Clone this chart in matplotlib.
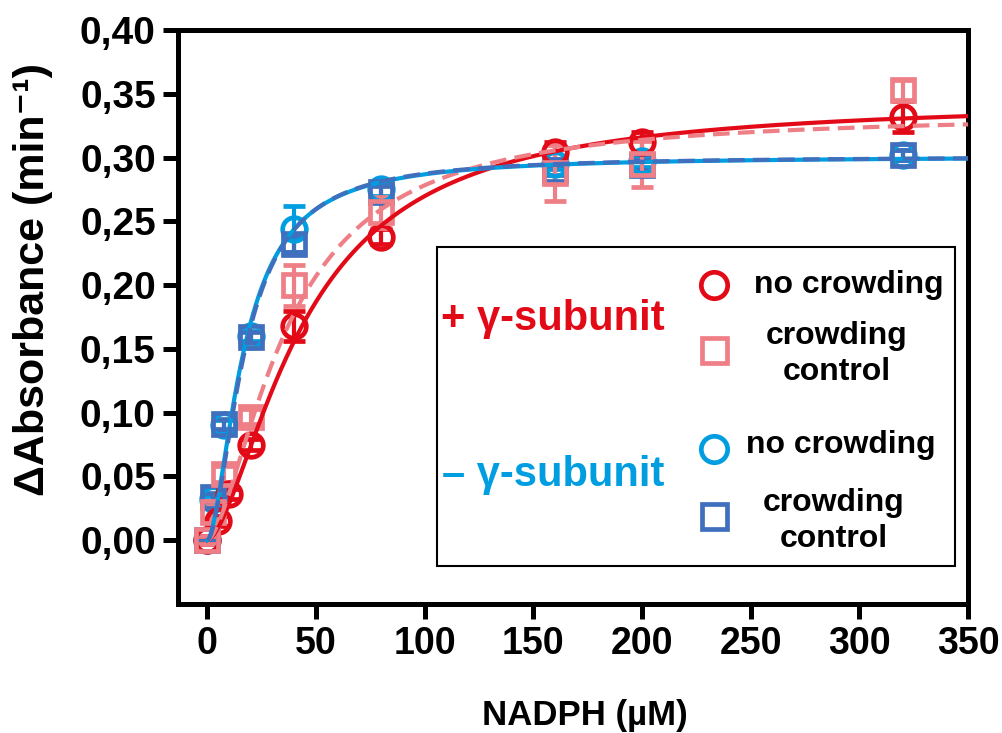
import numpy as np
import matplotlib
matplotlib.use("Agg")
import matplotlib.pyplot as plt
from matplotlib.patches import Rectangle

plt.rcParams['font.family'] = ['Liberation Sans', 'DejaVu Sans']
plt.rcParams['font.weight'] = 'bold'

# NADPH concentrations (µM) and rates for each condition
x_plus_nc = [0, 5, 10, 20, 40, 80, 160, 200, 320]
y_plus_nc = [0.000, 0.015, 0.036, 0.075, 0.168, 0.238, 0.304, 0.312, 0.332]
e_plus_nc = [0.003, 0.004, 0.004, 0.004, 0.012, 0.006, 0.008, 0.008, 0.012]

x_plus_cc = [0, 2.5, 7.5, 20, 40, 80, 160, 200, 320]
y_plus_cc = [0.000, 0.022, 0.052, 0.097, 0.200, 0.257, 0.288, 0.295, 0.353]
e_plus_cc = [0.003, 0.005, 0.006, 0.006, 0.016, 0.012, 0.022, 0.018, 0.008]

x_minus_nc = [0, 2.5, 7.5, 20, 40, 80, 160, 200, 320]
y_minus_nc = [0.000, 0.032, 0.090, 0.160, 0.244, 0.275, 0.295, 0.297, 0.302]
e_minus_nc = [0.002, 0.003, 0.004, 0.004, 0.018, 0.005, 0.004, 0.004, 0.004]

x_minus_cc = [0, 2.5, 7.5, 20, 40, 80, 160, 200, 320]
y_minus_cc = [0.000, 0.034, 0.091, 0.159, 0.232, 0.273, 0.290, 0.294, 0.302]
e_minus_cc = [0.002, 0.003, 0.004, 0.004, 0.006, 0.005, 0.004, 0.004, 0.004]

# Hill fit parameters (Vmax, K, n)
fit_plus_nc = (0.345, 45.0, 1.6)
fit_plus_cc = (0.335, 37.0, 1.6)
fit_minus_nc = (0.301, 17.0, 1.7)
fit_minus_cc = (0.301, 17.5, 1.75)

x_ticks = [0, 50, 100, 150, 200, 250, 300, 350]
y_ticks = [0.00, 0.05, 0.10, 0.15, 0.20, 0.25, 0.30, 0.35, 0.40]

RED = '#E30A17'
PINK = '#EF7F86'
CYAN = '#009EE0'
BLUE = '#4070BD'


def hill(x, vmax, k, n):
    x = np.asarray(x, dtype=float)
    return vmax * x**n / (k**n + x**n)


fig = plt.figure(figsize=(10.03, 7.33), dpi=100)
ax = fig.add_axes([0.1775, 0.176, 0.7876, 0.783])

ms_c, ms_s, mew = 17, 15.5, 3.4
err_kw = dict(elinewidth=3, capsize=8, capthick=3, linestyle='none')

# markers, drawn first so that the fit lines lie above them
ax.errorbar(x_minus_nc, y_minus_nc, yerr=e_minus_nc, marker='o', ms=ms_c, mew=mew,
            mfc='none', mec=CYAN, ecolor=CYAN, zorder=3, clip_on=False, **err_kw)
ax.errorbar(x_minus_cc, y_minus_cc, yerr=e_minus_cc, marker='s', ms=ms_s, mew=mew,
            mfc='none', mec=BLUE, ecolor=BLUE, zorder=3, clip_on=False, **err_kw)
ax.errorbar(x_plus_nc, y_plus_nc, yerr=e_plus_nc, marker='o', ms=ms_c, mew=mew,
            mfc='none', mec=RED, ecolor=RED, zorder=3, clip_on=False, **err_kw)
ax.errorbar(x_plus_cc, y_plus_cc, yerr=e_plus_cc, marker='s', ms=ms_s, mew=mew,
            mfc='none', mec=PINK, ecolor=PINK, zorder=3, clip_on=False, **err_kw)

xf = np.linspace(0, 350, 600)
ax.plot(xf, hill(xf, *fit_plus_nc), color=RED, lw=3, zorder=4)
ax.plot(xf, hill(xf, *fit_plus_cc), color=PINK, lw=3, ls=(0, (4, 2)), zorder=4)
ax.plot(xf, hill(xf, *fit_minus_nc), color=CYAN, lw=3, zorder=4)
ax.plot(xf, hill(xf, *fit_minus_cc), color=BLUE, lw=3, ls=(0, (4, 2)), zorder=4)

ax.set_xlim(-13.5, 350)
ax.set_ylim(-0.05, 0.40)
ax.set_xticks(x_ticks)
ax.set_yticks(y_ticks)
ax.set_xticklabels([str(v) for v in x_ticks])
ax.set_yticklabels([f"{v:.2f}".replace('.', ',') for v in y_ticks])
for s in ax.spines.values():
    s.set_linewidth(3.6)
ax.tick_params(direction='out', length=11, width=3.6, labelsize=27, pad=5)
ax.tick_params(axis='y', labelsize=28)

ax.set_xlabel('NADPH (µM)', fontsize=25, fontweight='bold')
ax.xaxis.set_label_coords(0.515, -0.165)
ax.set_ylabel('ΔAbsorbance (min⁻¹)', fontsize=31, fontweight='bold')
ax.yaxis.set_label_coords(-0.158, 0.565)

# legend panel
ax.add_patch(Rectangle((0.328, 0.066), 0.6555, 0.556, transform=ax.transAxes,
                       fill=False, ec='black', lw=1.5, zorder=5))
ax.text(0.616, 0.4965, '+ γ-subunit', color=RED, fontsize=30, fontweight='bold',
        transform=ax.transAxes, va='center', ha='right', zorder=6)
ax.text(0.616, 0.2247, '– γ-subunit', color=CYAN, fontsize=30, fontweight='bold',
        transform=ax.transAxes, va='center', ha='right', zorder=6)

leg_ms = 19
leg_x = 0.679
ax.plot([leg_x], [0.5557], marker='o', ms=leg_ms, mew=mew, mfc='none', mec=RED,
        transform=ax.transAxes, zorder=6)
ax.plot([leg_x], [0.4425], marker='s', ms=leg_ms - 1, mew=mew, mfc='none', mec=PINK,
        transform=ax.transAxes, zorder=6)
ax.plot([leg_x], [0.270], marker='o', ms=leg_ms, mew=mew, mfc='none', mec=CYAN,
        transform=ax.transAxes, zorder=6)
ax.plot([leg_x], [0.153], marker='s', ms=leg_ms - 1, mew=mew, mfc='none', mec=BLUE,
        transform=ax.transAxes, zorder=6)

ax.text(0.729, 0.5557, 'no crowding', fontsize=23, fontweight='bold',
        transform=ax.transAxes, va='center', ha='left', zorder=6)
ax.text(0.834, 0.4355, 'crowding\ncontrol', fontsize=23, fontweight='bold',
        transform=ax.transAxes, va='center', ha='center', linespacing=1.25, zorder=6)
ax.text(0.7196, 0.277, 'no crowding', fontsize=23, fontweight='bold',
        transform=ax.transAxes, va='center', ha='left', zorder=6)
ax.text(0.830, 0.1446, 'crowding\ncontrol', fontsize=23, fontweight='bold',
        transform=ax.transAxes, va='center', ha='center', linespacing=1.3, zorder=6)

fig.savefig('out.png', dpi=100)
